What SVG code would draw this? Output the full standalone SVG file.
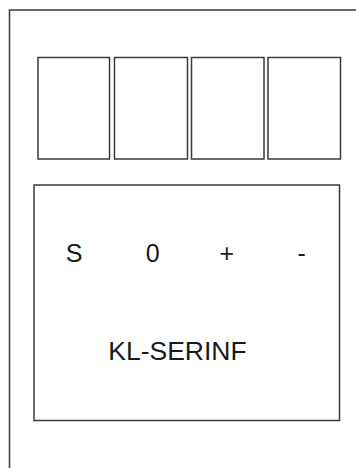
<svg xmlns="http://www.w3.org/2000/svg" width="356" height="468" viewBox="0 0 356 468">
<style>
.frame{fill:none;stroke:#3a3a3a;stroke-width:1.5}
.box{fill:#fff;stroke:#3a3a3a;stroke-width:1.5}
.lbl{font-family:"Liberation Sans",Arial,sans-serif;fill:#1a1a1a;text-anchor:middle}
</style>
<rect width="356" height="468" fill="#fff"/>
<path class="frame" d="M356,10 H9.5 V468"/>
<g id="slot1"><rect class="box" x="38" y="57.5" width="71.5" height="101.5"/></g>
<g id="slot2"><rect class="box" x="114.5" y="57.5" width="73" height="101.5"/></g>
<g id="slot3"><rect class="box" x="191.5" y="57.5" width="72.5" height="101.5"/></g>
<g id="slot4"><rect class="box" x="268" y="57.5" width="72.5" height="101.5"/></g>
<g id="serinf">
<rect class="box" x="34" y="185" width="305.5" height="235.5"/>
<text class="lbl" x="74" y="262" font-size="25">S</text>
<text class="lbl" x="152.7" y="262" font-size="25">0</text>
<text class="lbl" x="226.7" y="262" font-size="25">+</text>
<text class="lbl" x="301.7" y="262" font-size="25">-</text>
<text class="lbl" x="177.5" y="359.5" font-size="26.5">KL-SERINF</text>
</g>
<g id="connectors"/>
</svg>
